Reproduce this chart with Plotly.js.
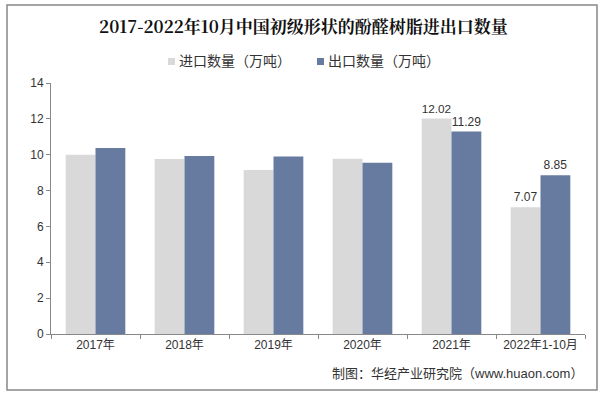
<!DOCTYPE html>
<html>
<head>
<meta charset="utf-8">
<script src="https://cdn.plot.ly/plotly-3.0.1.min.js"></script>
<style>html,body{margin:0;padding:0;background:#fff;}#chart{width:607px;height:396px;}</style>
</head>
<body>
<div id="chart"></div>
<script>
const categories = ['2017年','2018年','2019年','2020年','2021年','2022年1-10月'];
const importValues = [10.0, 9.76, 9.15, 9.78, 12.02, 7.07];
const exportValues = [10.38, 9.93, 9.9, 9.55, 11.29, 8.85];
const importLabels = ['', '', '', '', '12.02', '7.07'];
const exportLabels = ['', '', '', '', '11.29', '8.85'];
const seriesNames = ['进口数量（万吨）', '出口数量（万吨）'];
const seriesColors = ['#d9d9d9', '#677ba0'];
const yTicks = [0, 2, 4, 6, 8, 10, 12, 14];

const font = 'Arial, "Liberation Sans", "Noto Sans CJK SC", sans-serif';
const PL = 51, PR = 585, PT = 83, PB = 334;
const px = X => (X - PL) / (PR - PL);
const py = Y => (PB - Y) / (PB - PT);

const traces = [
  {type:'bar', name:seriesNames[0], x:categories, y:importValues, text:importLabels,
   textposition:'outside', cliponaxis:false, marker:{color:seriesColors[0]},
   textfont:{size:12, color:'#333', family:font}, hoverinfo:'none', showlegend:false},
  {type:'bar', name:seriesNames[1], x:categories, y:exportValues, text:exportLabels,
   textposition:'outside', cliponaxis:false, marker:{color:seriesColors[1]},
   textfont:{size:12, color:'#333', family:font}, hoverinfo:'none', showlegend:false}
];

// custom legend (small squares + text)
const legendSquareX = [168, 317];
const legendShapes = legendSquareX.map((X, i) => ({
  type:'rect', xref:'paper', yref:'paper', x0:px(X), x1:px(X + 7), y0:py(65), y1:py(58),
  line:{width:0}, fillcolor:seriesColors[i]
}));
const legendTexts = legendSquareX.map((X, i) => ({
  text:seriesNames[i], xref:'paper', yref:'paper', x:px(X + 9), xanchor:'left', y:py(61), yanchor:'middle',
  showarrow:false, font:{size:14, color:'#333'}
}));

const layout = {
  width:607, height:396,
  margin:{l:PL, r:607-PR, t:PT, b:396-PB},
  paper_bgcolor:'#fff', plot_bgcolor:'#fff',
  font:{family:font, size:12, color:'#333'},
  title:{text:'<b>2017-2022年10月中国初级形状的酚醛树脂进出口数量</b>', x:0.5, xref:'container', xanchor:'center',
         y:1-27/396, yref:'container', yanchor:'middle',
         font:{size:17, color:'#111', family:'"Noto Serif CJK SC", "Liberation Serif", "Noto Sans CJK SC", serif'}},
  barmode:'group', bargap:0.33, bargroupgap:0,
  showlegend:false,
  xaxis:{type:'category', showline:true, linecolor:'#888', linewidth:1, ticks:'outside', tickson:'boundaries',
         ticklen:4, tickcolor:'#888', showgrid:false, tickfont:{size:12, color:'#333'}},
  yaxis:{range:[0,14], tickvals:yTicks, ticktext:yTicks.map(String), showline:true, linecolor:'#888', linewidth:1,
         ticks:'outside', ticklen:4, tickcolor:'#888', showgrid:false, zeroline:false, tickfont:{size:12, color:'#333'}},
  shapes:[{type:'rect', xref:'paper', yref:'paper', x0:px(7), x1:px(597), y0:py(390), y1:py(5),
           line:{color:'#888', width:1.5}, fillcolor:'rgba(0,0,0,0)', layer:'below'}].concat(legendShapes),
  annotations:[
    {text:'制图：华经产业研究院（www.huaon.com）', xref:'paper', yref:'paper', x:1, xanchor:'right',
     y:py(373), yanchor:'middle', showarrow:false, font:{size:13, color:'#333'}}
  ].concat(legendTexts)
};
Plotly.newPlot('chart', traces, layout, {displayModeBar:false, staticPlot:true});
</script>
</body>
</html>
